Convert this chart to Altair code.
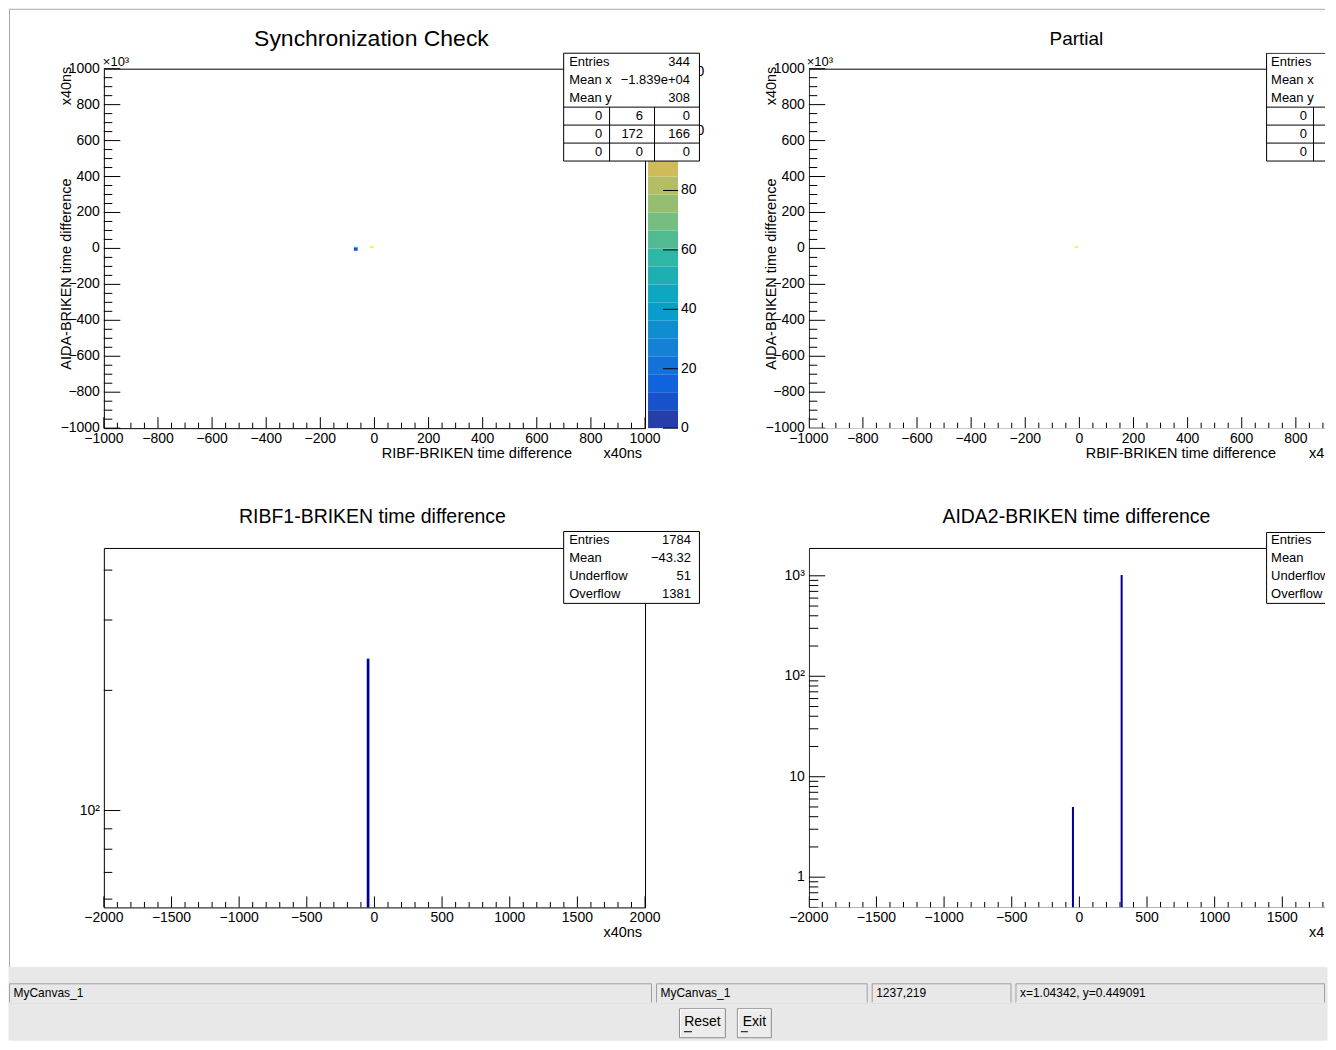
import numpy as np
import pandas as pd
import altair as alt

FONT = "Liberation Sans"

# ---------------- values ----------------
# "Synchronization Check" 2D histogram (x: RIBF-BRIKEN, y: AIDA-BRIKEN in units of 10^3)
sync_x_lo = [-76, -76, -17]
sync_x_hi = [-62, -62, -3]
sync_y_lo = [-13, 4, 2]
sync_y_hi = [4, 9, 13]
sync_counts = [10, 41, 121]
sync_z_max = 121

# "Partial" 2D histogram
partial_x_lo = [-16]
partial_x_hi = [-6]
partial_y_lo = [2]
partial_y_hi = [13]
partial_counts = [121]

# "RIBF1-BRIKEN time difference"
ribf_bin_lo = [-57]
ribf_bin_hi = [-37]
ribf_counts = [240]

# "AIDA2-BRIKEN time difference"
aida_bin_lo = [-55, 305]
aida_bin_hi = [-40, 320]
aida_counts = [5, 1016]

# stats boxes
sync_stat_names = ["Entries", "Mean x", "Mean y"]
sync_stat_values = ["344", "\u22121.839e+04", "308"]
sync_table = [["0", "6", "0"], ["0", "172", "166"], ["0", "0", "0"]]
partial_stat_names = ["Entries", "Mean x", "Mean y"]
partial_table_first_col = ["0", "0", "0"]
ribf_stat_names = ["Entries", "Mean", "Underflow", "Overflow"]
ribf_stat_values = ["1784", "\u221243.32", "51", "1381"]
aida_stat_names = ["Entries", "Mean", "Underflow", "Overflow"]

# axis ranges and tick labels
top_x_range = [-1000, 1000]
top_y_range = [-1000, 1000]
bot_x_range = [-2000, 2000]
ribf_y_range = [57.2, 454.5]
aida_y_range = [0.5, 1893]
colorbar_ticks = [0, 20, 40, 60, 80, 100, 120]
ribf_log_ticks = [100]
ribf_log_labels = ["10\u00b2"]
aida_log_ticks = [1, 10, 100, 1000]
aida_log_labels = ["1", "10", "10\u00b2", "10\u00b3"]

status_fields = ["MyCanvas_1", "MyCanvas_1", "1237,219", "x=1.04342, y=0.449091"]
button_labels = ["Reset", "Exit"]

# ---------------- geometry ----------------
W_L, W_R, H, PH = 542, 517, 376, 360
EXTRA = H - PH


def lin_ext(lo, hi):
    return [lo, hi + EXTRA * (hi - lo) / PH]


def log_ext(lo, hi):
    a, b = np.log10(lo), np.log10(hi)
    return [lo, float(10 ** (b + EXTRA * (b - a) / PH))]


TL_X = list(top_x_range)
TR_X = [top_x_range[0], top_x_range[0] + W_R * (top_x_range[1] - top_x_range[0]) / W_L]
TOP_Y = lin_ext(*top_y_range)
BL_X = list(bot_x_range)
BR_X = [bot_x_range[0], bot_x_range[0] + W_R * (bot_x_range[1] - bot_x_range[0]) / W_L]
BL_Y = log_ext(*ribf_y_range)
BR_Y = log_ext(*aida_y_range)
Z_DOMAIN = [0, sync_z_max * H / PH]


def lscale(d):
    return alt.Scale(domain=d, nice=False, zero=False)


def gscale(d):
    return alt.Scale(type="log", domain=d, nice=False)


# ROOT kBird palette, 20 contour bands
_st = [0.0, 0.125, 0.25, 0.375, 0.5, 0.625, 0.75, 0.875, 1.0]
_r = [0.2082, 0.0592, 0.0780, 0.0232, 0.1802, 0.5301, 0.8186, 0.9956, 0.9764]
_g = [0.1664, 0.3599, 0.5041, 0.6419, 0.7178, 0.7492, 0.7328, 0.7862, 0.9832]
_b = [0.5293, 0.8684, 0.8385, 0.7914, 0.6425, 0.4662, 0.3499, 0.1968, 0.0539]
NB = 20
BAND_COLORS = []
for i in range(NB):
    f = min(1.0, (i + 0.99) / NB)
    rgb = [int(round(255 * np.interp(f, _st, c))) for c in (_r, _g, _b)]
    BAND_COLORS.append("#%02x%02x%02x" % tuple(rgb))
ZCOLOR = alt.Scale(type="quantize", domain=[0, sync_z_max], range=BAND_COLORS)

ONE = pd.DataFrame({"k": [0]})


def fmt(v):
    return str(int(v)).replace("-", "\u2212")


def text(t, x, y, size=14, align="left", angle=0, clip=False, font=FONT, color="black"):
    kw = dict(align=align, baseline="middle", fontSize=size, font=font, color=color, clip=clip)
    if angle:
        kw["angle"] = angle
    return alt.Chart(pd.DataFrame({"t": [t]})).mark_text(**kw).encode(
        x=alt.value(x), y=alt.value(y), text="t:N")


def hline(x0, x1, y, color="black", clip=False):
    return alt.Chart(ONE).mark_rule(color=color, strokeWidth=1, clip=clip).encode(
        x=alt.value(x0), x2=alt.value(x1), y=alt.value(y))


def vline(x, y0, y1, color="black", clip=False):
    return alt.Chart(ONE).mark_rule(color=color, strokeWidth=1, clip=clip).encode(
        x=alt.value(x), y=alt.value(y0), y2=alt.value(y1))


def box(x0, x1, y0, y1, fill="white", stroke="black", clip=False):
    return alt.Chart(ONE).mark_rect(fill=fill, stroke=stroke, strokeWidth=1, clip=clip).encode(
        x=alt.value(x0), x2=alt.value(x1), y=alt.value(y0), y2=alt.value(y1))


def frame(xs, ys, xr, yr, clip):
    df = pd.DataFrame({"x0": [xr[0]], "x1": [xr[1]], "y0": [yr[0]], "y1": [yr[1]]})
    return alt.Chart(df).mark_rect(fill="transparent", stroke="black", strokeWidth=1, clip=clip,
                                   xOffset=0.5, x2Offset=0.5, yOffset=0.5, y2Offset=0.5).encode(
        x=alt.X("x0:Q", scale=xs, axis=None), x2="x1",
        y=alt.Y("y0:Q", scale=ys, axis=None), y2="y1")


def xticks(xs, major, minor, labels, clip):
    a = alt.Chart(pd.DataFrame({"v": major})).mark_rule(color="black", clip=clip).encode(
        x=alt.X("v:Q", scale=xs, axis=None), y=alt.value(H), y2=alt.value(H - 11))
    b = alt.Chart(pd.DataFrame({"v": minor})).mark_rule(color="black", clip=clip).encode(
        x=alt.X("v:Q", scale=xs, axis=None), y=alt.value(H), y2=alt.value(H - 5.5))
    c = alt.Chart(pd.DataFrame({"v": major, "lab": labels})).mark_text(
        align="center", baseline="middle", fontSize=14, font=FONT, color="black").encode(
        x=alt.X("v:Q", scale=xs, axis=None), y=alt.value(H + 10.5), text="lab:N")
    return [a, b, c]


def yticks(ys, major, minor, labels, clip, minor_len=8.5):
    a = alt.Chart(pd.DataFrame({"v": major})).mark_rule(color="black", clip=clip).encode(
        y=alt.Y("v:Q", scale=ys, axis=None), x=alt.value(0), x2=alt.value(16.5))
    b = alt.Chart(pd.DataFrame({"v": minor})).mark_rule(color="black", clip=clip).encode(
        y=alt.Y("v:Q", scale=ys, axis=None), x=alt.value(0), x2=alt.value(minor_len))
    c = alt.Chart(pd.DataFrame({"v": major, "lab": labels})).mark_text(
        align="right", baseline="middle", fontSize=14, font=FONT, color="black").encode(
        y=alt.Y("v:Q", scale=ys, axis=None), x=alt.value(-4), text="lab:N")
    return [a, b, c]


def lin_ticks(lo, hi, step, sub, upto):
    major = [v for v in range(lo, hi + 1, step) if v <= upto]
    minor = [v for v in range(lo, hi + 1, sub) if v % step and v <= upto]
    return major, minor


def log_minor(lo, hi):
    out = []
    for e in range(-2, 5):
        for m in range(2, 10):
            v = m * 10.0 ** e
            if lo <= v <= hi:
                out.append(v)
    return out


def cells_layer(xlo, xhi, ylo, yhi, z, xs, ys, clip):
    df = pd.DataFrame({"x0": xlo, "x1": xhi, "y0": ylo, "y1": yhi, "z": z})
    return alt.Chart(df).mark_rect(clip=clip).encode(
        x=alt.X("x0:Q", scale=xs, axis=None), x2="x1",
        y=alt.Y("y0:Q", scale=ys, axis=None), y2="y1",
        color=alt.Color("z:Q", scale=ZCOLOR, legend=None))


def hist_layer(lo, hi, counts, xs, ys, ybottom, clip):
    df = pd.DataFrame({"lo": lo, "hi": hi, "n": counts})
    return alt.Chart(df).mark_rect(color="#000099", clip=clip).encode(
        x=alt.X("lo:Q", scale=xs, axis=None), x2="hi",
        y=alt.Y("n:Q", scale=ys, axis=None), y2=alt.datum(ybottom))


def y_titles():
    return [text("AIDA-BRIKEN time difference", -37, 126, size=14.5, angle=270, align="right"),
            text("x40ns", -37, 14, size=14.5, angle=270, align="right")]


# ---------------- top-left: Synchronization Check ----------------
xs = lscale(TL_X)
ys = lscale(TOP_Y)
xmaj, xmin = lin_ticks(-1000, 1000, 200, 50, TL_X[1])
ymaj, ymin = lin_ticks(-1000, 1000, 200, 50, 1000)
tl_main = alt.layer(
    cells_layer(sync_x_lo, sync_x_hi, sync_y_lo, sync_y_hi, sync_counts, xs, ys, False),
    frame(xs, ys, top_x_range, top_y_range, False),
    *xticks(xs, xmaj, xmin, [fmt(v) for v in xmaj], False),
    *yticks(ys, ymaj, ymin, [fmt(v) for v in ymaj], False),
)
zs = lscale(Z_DOMAIN)
band_lo = [k * sync_z_max / NB for k in range(NB)]
band_hi = [(k + 1) * sync_z_max / NB for k in range(NB)]
band_mid = [(a + b) / 2 for a, b in zip(band_lo, band_hi)]
cb = alt.Chart(pd.DataFrame({"lo": band_lo, "hi": band_hi, "mid": band_mid})).mark_rect().encode(
    x=alt.value(545), x2=alt.value(575),
    y=alt.Y("lo:Q", scale=zs, axis=None), y2="hi",
    color=alt.Color("mid:Q", scale=ZCOLOR, legend=None))
cb_ticks = alt.Chart(pd.DataFrame({"v": colorbar_ticks})).mark_rule(color="black").encode(
    y=alt.Y("v:Q", scale=zs, axis=None), x=alt.value(560), x2=alt.value(575))
cb_labels = alt.Chart(pd.DataFrame({"v": colorbar_ticks, "lab": [fmt(v) for v in colorbar_ticks]})).mark_text(
    align="left", baseline="middle", fontSize=14, font=FONT, color="black").encode(
    y=alt.Y("v:Q", scale=zs, axis=None), x=alt.value(578), text="lab:N")
colorbar = alt.layer(cb, cb_ticks, cb_labels)

tl_decor = [
    hline(-94.5, 1223, -43.5, color="#a8a8a8"),
    vline(-94.5, -43.5, 916, color="#a8a8a8"),
    text("Synchronization Check", 268, -14, size=23, align="center"),
    text("\u00d710\u00b3", -1, 9.5, size=13),
    *y_titles(),
    text("RIBF-BRIKEN time difference", 469, 402, size=14.5, align="right"),
    text("x40ns", 539, 402, size=14.5, align="right"),
    box(460.5, 596.5, 0.5, 108.5),
    hline(460.5, 596.5, 54.5), hline(460.5, 596.5, 72.5), hline(460.5, 596.5, 90.5),
    vline(506.5, 54.5, 108.5), vline(551.5, 54.5, 108.5),
]
for i, (nm, val) in enumerate(zip(sync_stat_names, sync_stat_values)):
    tl_decor.append(text(nm, 466, 9 + 18 * i, size=13))
    tl_decor.append(text(val, 587, 9 + 18 * i, size=13, align="right"))
for r, row in enumerate(sync_table):
    for c, val in enumerate(row):
        tl_decor.append(text(val, [499, 540, 587][c], 63.5 + 18 * r, size=13, align="right"))

tl = alt.layer(tl_main, colorbar, *tl_decor).resolve_scale(y="independent").properties(
    width=W_L, height=H)

# ---------------- top-right: Partial ----------------
xs = lscale(TR_X)
xmaj, xmin = lin_ticks(-1000, 1000, 200, 50, TR_X[1])
tr_main = alt.layer(
    cells_layer(partial_x_lo, partial_x_hi, partial_y_lo, partial_y_hi, partial_counts, xs, ys, True),
    frame(xs, ys, top_x_range, top_y_range, True),
    *xticks(xs, xmaj, xmin, [fmt(v) for v in xmaj], True),
    *yticks(ys, ymaj, ymin, [fmt(v) for v in ymaj], True),
)
tr_decor = [
    text("Partial", 268, -14, size=19, align="center"),
    text("\u00d710\u00b3", -2, 9.5, size=13),
    *y_titles(),
    text("RBIF-BRIKEN time difference", 468, 402, size=14.5, align="right"),
    text("x4", 501, 402, size=14.5),
    box(458.5, 600, 0.5, 108.5, clip=True),
    hline(458.5, 600, 54.5, clip=True), hline(458.5, 600, 72.5, clip=True),
    hline(458.5, 600, 90.5, clip=True),
    vline(505.5, 54.5, 108.5, clip=True),
]
for i, nm in enumerate(partial_stat_names):
    tr_decor.append(text(nm, 463, 9 + 18 * i, size=13, clip=True))
for r, val in enumerate(partial_table_first_col):
    tr_decor.append(text(val, 499, 63.5 + 18 * r, size=13, align="right", clip=True))
tr = alt.layer(tr_main, *tr_decor).properties(width=W_R, height=H)

# ---------------- bottom-left: RIBF1-BRIKEN ----------------
xs = lscale(BL_X)
ys = gscale(BL_Y)
xmaj, xmin = lin_ticks(-2000, 2000, 500, 100, BL_X[1])
bl_main = alt.layer(
    hist_layer(ribf_bin_lo, ribf_bin_hi, ribf_counts, xs, ys, ribf_y_range[0], False),
    frame(xs, ys, bot_x_range, ribf_y_range, False),
    *xticks(xs, xmaj, xmin, [fmt(v) for v in xmaj], False),
    *yticks(ys, ribf_log_ticks, log_minor(*ribf_y_range), ribf_log_labels, False),
)
bl_decor = [
    text("RIBF1-BRIKEN time difference", 269, -15, size=19.5, align="center"),
    text("x40ns", 539, 402, size=14.5, align="right"),
    box(460.5, 596.5, -0.5, 71.5),
]
for i, (nm, val) in enumerate(zip(ribf_stat_names, ribf_stat_values)):
    bl_decor.append(text(nm, 466, 8 + 18 * i, size=13))
    bl_decor.append(text(val, 588, 8 + 18 * i, size=13, align="right"))

# window status bar (page coords shifted by the bottom-left view origin 103, 532)
GRAY = "#e8e8e8"
bl_decor.append(box(-95, 1225, 436, 509, fill=GRAY, stroke=GRAY))
field_x = [(-94.5, 548.5), (553.5, 764.5), (769.5, 908.5), (913.5, 1222.5)]
for (a, b), lab in zip(field_x, status_fields):
    bl_decor.append(box(a, b, 452.5, 471.5, fill=GRAY, stroke="#a0a0a0"))
    bl_decor.append(hline(a, b, 471.5, color="white"))
    bl_decor.append(text(lab, a + 4, 462, size=12))
button_x = [(576.5, 622.5), (634.5, 668.5)]
underline_x = [(581, 589), (638, 645)]
for (a, b), (u0, u1), lab in zip(button_x, underline_x, button_labels):
    bl_decor.append(box(a, b, 477.5, 506.5, fill="#ececec", stroke="#8c8c8c"))
    bl_decor.append(hline(a + 1, b - 1, 478.5, color="white"))
    bl_decor.append(vline(a + 1, 478.5, 505.5, color="white"))
    bl_decor.append(text(lab, (a + b) / 2, 491, size=14, align="center"))
    bl_decor.append(hline(u0, u1, 500.5))
bl = alt.layer(bl_main, *bl_decor).properties(width=W_L, height=H)

# ---------------- bottom-right: AIDA2-BRIKEN ----------------
xs = lscale(BR_X)
ys = gscale(BR_Y)
xmaj, xmin = lin_ticks(-2000, 2000, 500, 100, BR_X[1])
br_main = alt.layer(
    hist_layer(aida_bin_lo, aida_bin_hi, aida_counts, xs, ys, aida_y_range[0], True),
    frame(xs, ys, bot_x_range, aida_y_range, True),
    *xticks(xs, xmaj, xmin, [fmt(v) for v in xmaj], True),
    *yticks(ys, aida_log_ticks, log_minor(*aida_y_range), aida_log_labels, True, minor_len=9.5),
)
br_decor = [
    text("AIDA2-BRIKEN time difference", 268, -15, size=19.5, align="center"),
    text("x4", 501, 402, size=14.5),
    box(458.5, 600, 0.5, 71.5, clip=True),
]
for i, nm in enumerate(aida_stat_names):
    br_decor.append(text(nm, 463, 8 + 18 * i, size=13, clip=True))
br = alt.layer(br_main, *br_decor).properties(width=W_R, height=H)

chart = alt.concat(tl, tr, bl, br, columns=2, spacing={"row": 104, "column": 164},
                   bounds="flush").properties(padding=0).configure_view(stroke=None)

chart.save("out.html", embed_options={"renderer": "svg", "actions": False})
